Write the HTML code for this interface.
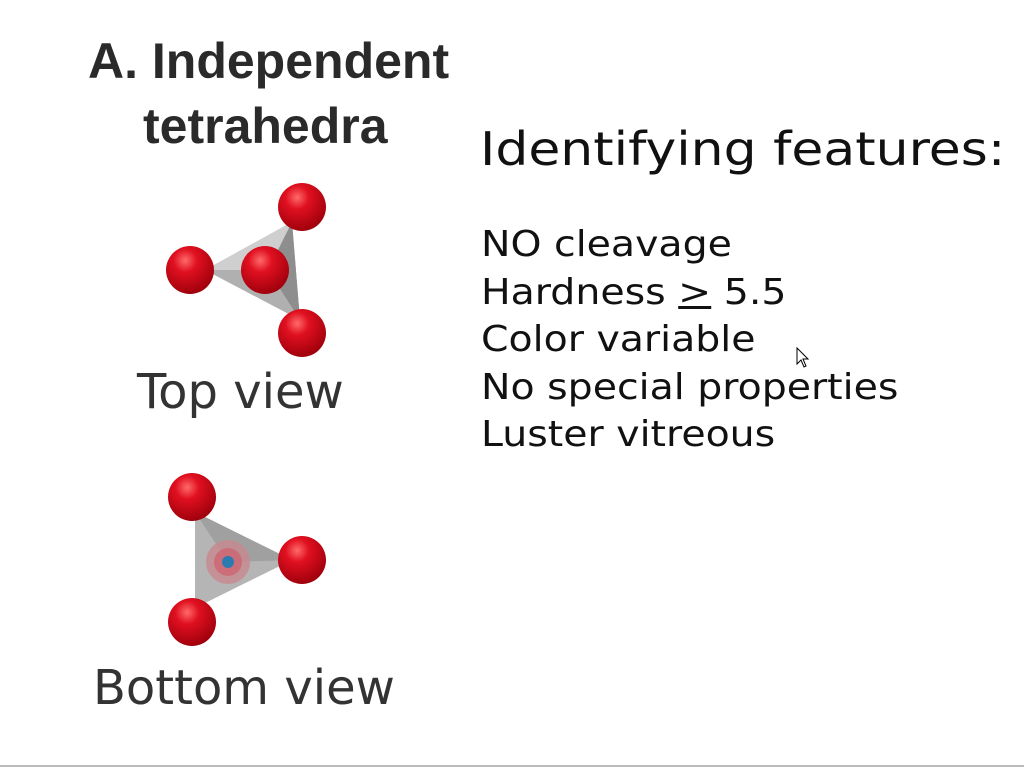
<!DOCTYPE html>
<html><head><meta charset="utf-8"><style>
html,body{margin:0;padding:0;}
body{width:1024px;height:768px;background:#fff;position:relative;overflow:hidden;}
.t{position:absolute;white-space:nowrap;}
.title{font-family:"Liberation Sans Narrow","Liberation Sans",sans-serif;font-weight:bold;font-size:50px;color:#2a2a2a;transform-origin:left top;}
.cap{font-family:"DejaVu Sans","Liberation Sans",sans-serif;font-size:48px;color:#333;transform-origin:left top;}
.rt{font-family:"DejaVu Sans","Liberation Sans",sans-serif;color:#111;transform-origin:left top;}
.li{font-size:36px;transform:scaleX(1.095);}
</style></head><body>
<div class="t title" style="left:88px;top:32px;">A. Independent</div>
<div class="t title" style="left:143px;top:97px;">tetrahedra</div>

<svg width="1024" height="768" style="position:absolute;left:0;top:0">
<defs>
<radialGradient id="ball" cx="0.4" cy="0.3" r="0.7">
<stop offset="0" stop-color="#ff6a6a"/><stop offset="0.35" stop-color="#e01020"/><stop offset="1" stop-color="#a0000c"/>
</radialGradient>
</defs>
<g>
<polygon points="292,222 205,270 300,320" fill="#b0b0b0"/>
<polygon points="292,222 205,270 268,270" fill="#cfcfcf"/>
<polygon points="292,222 300,320 268,270" fill="#8e8e8e"/>
<circle cx="302" cy="207" r="24" fill="url(#ball)"/>
<circle cx="190" cy="270" r="24" fill="url(#ball)"/>
<circle cx="265" cy="270" r="24" fill="url(#ball)"/>
<circle cx="302" cy="333" r="24" fill="url(#ball)"/>
</g>
<g>
<polygon points="195,512 292,560 195,608" fill="#b5b5b5"/>
<polygon points="195,512 292,560 228,562" fill="#a0a0a0"/>
<circle cx="228" cy="562" r="22" fill="#c88890" opacity="0.8"/>
<circle cx="228" cy="562" r="14" fill="#d0606c" opacity="0.7"/>
<circle cx="228" cy="562" r="6" fill="#2a7cb0"/>
<circle cx="192" cy="497" r="24" fill="url(#ball)"/>
<circle cx="302" cy="560" r="24" fill="url(#ball)"/>
<circle cx="192" cy="622" r="24" fill="url(#ball)"/>
</g>
<path d="M797,348 L797,364 L801,360 L804,367 L806,366 L803,359 L808,359 Z" fill="#fff" stroke="#000" stroke-width="1"/>
<line x1="0" y1="766" x2="1024" y2="766" stroke="#bbb" stroke-width="2"/>
</svg>

<div class="t cap" style="left:137px;top:364px;">Top view</div>
<div class="t cap" style="left:93px;top:660px;">Bottom view</div>

<div class="t rt" style="left:480px;top:122px;font-size:46px;transform:scaleX(1.13);">Identifying features:</div>
<div class="t rt li" style="left:481px;top:224px;">NO cleavage</div>
<div class="t rt li" style="left:481px;top:272px;">Hardness <u>&gt;</u> 5.5</div>
<div class="t rt li" style="left:481px;top:319px;">Color variable</div>
<div class="t rt li" style="left:481px;top:367px;">No special properties</div>
<div class="t rt li" style="left:481px;top:414px;">Luster vitreous</div>
</body></html>
